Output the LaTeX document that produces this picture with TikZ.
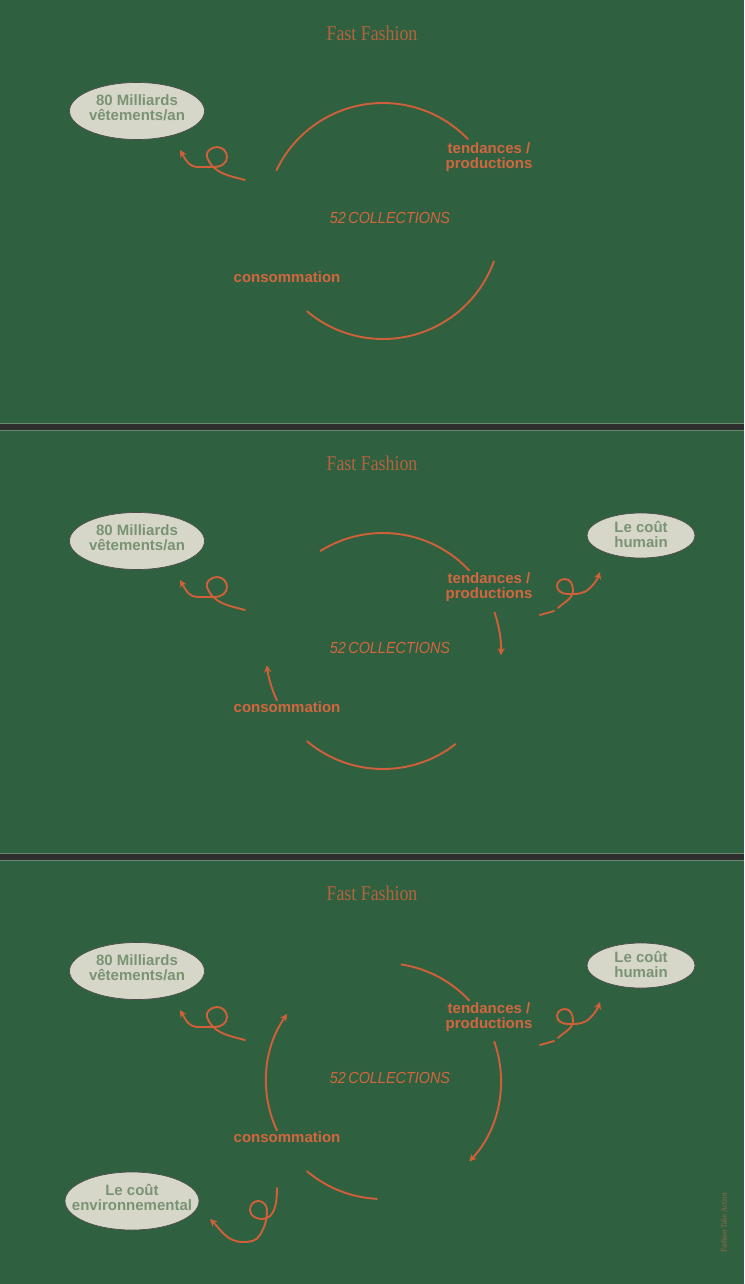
\documentclass[tikz,border=0pt]{standalone}
\usepackage{fontspec}
\usepackage{graphicx}
\usetikzlibrary{shapes.geometric,arrows.meta,calc}
\setmainfont{Liberation Serif}
\newfontfamily\lsans{Liberation Sans}
\definecolor{bg}{HTML}{2F6140}
\definecolor{barc}{HTML}{2E2E2E}
\definecolor{barline}{HTML}{6A8770}
\definecolor{rust}{HTML}{D0603A}
\definecolor{rusttxt}{HTML}{D2663F}
\definecolor{titlec}{HTML}{B5633F}
\definecolor{ovalc}{HTML}{D7D7C9}
\definecolor{ovaltxt}{HTML}{7A9374}
\definecolor{creditc}{HTML}{A06848}
\tikzset{
  curve/.style={draw=rust, line width=1.9pt, line cap=round},
  arr/.style={curve, -{Stealth[length=7pt,width=7pt,inset=2pt]}},
  oval/.style={ellipse, fill=ovalc, draw=black!70, line width=0.7pt, inner sep=0pt},
  ovtext/.style={text=ovaltxt, align=center, inner sep=0pt, font=\lsans\bfseries\fontsize{15}{15}\selectfont},
  lab/.style={text=rusttxt, align=center, inner sep=0pt, font=\lsans\bfseries\fontsize{15}{15}\selectfont},
  coll/.style={text=rusttxt, inner sep=0pt, font=\lsans\itshape\fontsize{16}{16}\selectfont},
  ttl/.style={text=titlec, inner sep=0pt, font=\fontsize{21}{21}\selectfont},
}
\begin{document}
\begin{tikzpicture}[x=1pt,y=1pt]
\useasboundingbox (0,0) rectangle (744,-1284);
\fill[bg] (0,0) rectangle (744,-1284);
% separator bars
\fill[barc] (0,-424) rectangle (744,-430);
\fill[barc] (0,-854) rectangle (744,-860);
\draw[barline, line width=0.7pt] (0,-423.8) -- (744,-423.8) (0,-430.2) -- (744,-430.2);
\draw[barline, line width=0.7pt] (0,-853.8) -- (744,-853.8) (0,-860.2) -- (744,-860.2);

% shared elements of the three panels
\foreach \k/\o in {0/0,1/430,2/860}{
  \begin{scope}[yshift=-\o pt]
    \coordinate (c\k) at (383,-221);
    \node[ttl] (title\k) at (372,-33) {\scalebox{0.85}[1]{Fast Fashion}};
    \node[oval, minimum width=135, minimum height=57] (mil\k) at (137,-111) {};
    \node[ovtext] (miltext\k) at (137,-108) {80 Milliards\\vêtements/an};
    \node[lab] (tend\k) at (489,-157) {tendances /\\productions};
    \node[coll] (coll\k) at (390,-218) {\scalebox{0.9}[1]{52\,COLLECTIONS}};
    \node[lab] (cons\k) at (287,-277) {consommation};
    \coordinate (ls\k) at (245,-180);
    \coordinate (le\k) at (180,-150);
    \draw[arr] (ls\k) to[out=165,in=-70] (207,-157) to[out=110,in=180] (217,-147)
      to[out=0,in=90] (227,-157) to[out=-90,in=0] (215,-167)
      to[out=180,in=0] (198,-167) to[out=180,in=-60] (le\k);
  \end{scope}
}

% "Le coût humain" in panels 2 and 3
\foreach \k/\o in {1/430,2/860}{
  \begin{scope}[yshift=-\o pt]
    \node[oval, minimum width=108, minimum height=45] (hum\k) at (641,-105.5) {};
    \node[ovtext] (humtext\k) at (641,-104.5) {Le coût\\humain};
    \coordinate (rs\k) at (540,-185);
    \coordinate (rd\k) at (554,-181);
    \coordinate (rb\k) at (558,-178);
    \coordinate (re\k) at (600,-142);
    \draw[curve] (rs\k) -- (rd\k);
    \draw[arr] (rb\k) to[out=45,in=-90] (573,-160) to[out=90,in=0] (565,-149)
      to[out=180,in=90] (557,-156) to[out=-90,in=180] (568,-164)
      to[out=0,in=-135] (590,-158) to[out=45,in=-110] (re\k);
  \end{scope}
}

% panel 1 cycle
\draw[curve] ($(c0)+(154.5:118)$) arc[start angle=154.5, end angle=44, radius=118];
\draw[curve] ($(c0)+(-20:118)$) arc[start angle=-20, end angle=-130, radius=118];

% panel 2 cycle
\draw[curve] ($(c1)+(122:118)$) arc[start angle=122, end angle=43, radius=118];
\draw[arr] ($(c1)+(19:118)$) arc[start angle=19, end angle=-2, radius=118];
\draw[curve] ($(c1)+(-52:118)$) arc[start angle=-52, end angle=-130, radius=118];
\draw[arr] ($(c1)+(205:117)$) arc[start angle=205, end angle=187, radius=117];

% panel 3 cycle
\draw[curve] ($(c2)+(81:118)$) arc[start angle=81, end angle=43, radius=118];
\draw[arr] ($(c2)+(19.5:118)$) arc[start angle=19.5, end angle=-43, radius=118];
\draw[curve] ($(c2)+(-93:118)$) arc[start angle=-93, end angle=-130, radius=118];
\draw[arr] ($(c2)+(205:117)$) arc[start angle=205, end angle=145, radius=117];

% environmental cost
\node[oval, minimum width=134, minimum height=58] (env) at (132,-1201) {};
\node[ovtext] (envtext) at (132,-1197) {Le coût\\environnemental};
\coordinate (es) at (277,-1188);
\coordinate (ee) at (210,-1219);
\draw[arr] (es) to[out=-90,in=0] (262,-1219) to[out=180,in=-90] (250,-1210)
  to[out=90,in=180] (258,-1201) to[out=0,in=90] (267,-1210)
  to[out=-90,in=60] (260,-1235) to[out=-120,in=0] (243,-1242)
  to[out=180,in=-45] (ee);

% credit
\node[rotate=90, text=creditc, inner sep=0pt, font=\fontsize{8}{8}\selectfont] (credit) at (724,-1223) {\scalebox{0.9}[1]{Fashion Take Action}};
\end{tikzpicture}
\end{document}
